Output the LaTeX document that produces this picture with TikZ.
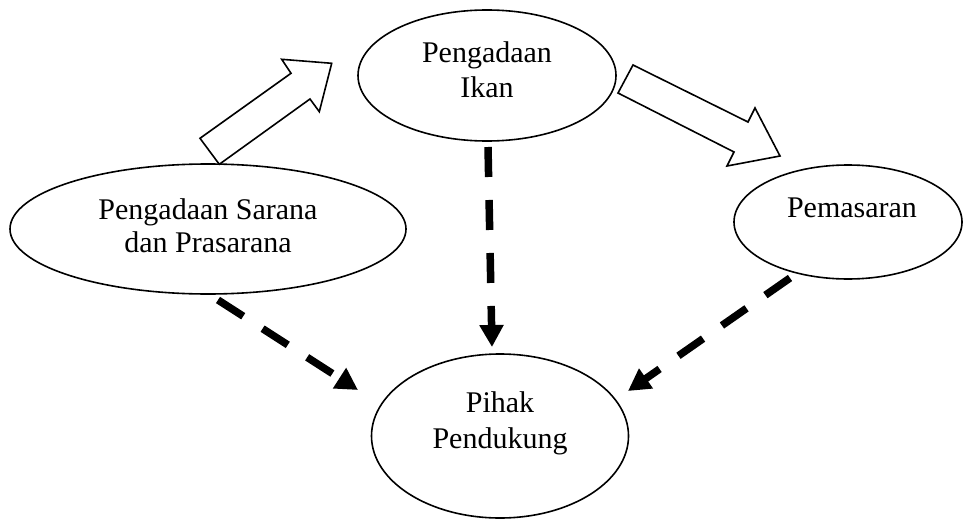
\documentclass[tikz,border=0pt]{standalone}
\usepackage{fontspec}
\setmainfont{Liberation Serif}
\usetikzlibrary{shapes.geometric,arrows.meta}
\begin{document}
\begin{tikzpicture}[x=1pt,y=-1pt,
  oval/.style={draw, ellipse, line width=1.6pt, inner sep=0pt},
  lbl/.style={anchor=base, font=\fontsize{30}{34}\selectfont, inner sep=0pt},
  blockarrow/.style={draw, line width=1.6pt, fill=white, line join=miter},
  dasharrow/.style={line width=7.5pt, dash pattern=on 30pt off 23pt, -{Triangle[length=22pt,width=23pt]}}]
\useasboundingbox (0,0) rectangle (963,519);
% ellipses
\node[oval, minimum width=258pt, minimum height=131pt] (ikan) at (487,75.5) {};
\node[oval, minimum width=396pt, minimum height=130pt] (sarana) at (208,229) {};
\node[oval, minimum width=228pt, minimum height=114pt] (pemasaran) at (848,222) {};
\node[oval, minimum width=257pt, minimum height=164pt] (pihak) at (500,436) {};
% texts
\node[lbl] (t1a) at (487,63) {Pengadaan};
\node[lbl] (t1b) at (487,97) {Ikan};
\node[lbl] (t2a) at (208,219) {Pengadaan Sarana};
\node[lbl] (t2b) at (208,252) {dan Prasarana};
\node[lbl] (t3) at (852,217) {Pemasaran};
\node[lbl] (t4a) at (500,412) {Pihak};
\node[lbl] (t4b) at (500,448) {Pendukung};
% block arrows
\draw[blockarrow] (200,138.3) -- (219.3,164.3) -- (310,99) -- (319.3,111.7) -- (331.7,63.3) -- (281.7,59.3) -- (291,73.3) -- cycle;
\draw[blockarrow] (633,65) -- (618,93) -- (734,152) -- (727,166) -- (780,156) -- (755,108) -- (748,122) -- cycle;
% dashed arrows
\coordinate (a1s) at (218,300);
\coordinate (a1e) at (358,390);
\coordinate (a2s) at (488,147);
\coordinate (a2e) at (492,347);
\coordinate (a3s) at (790,278);
\coordinate (a3e) at (628,391);
\draw[dasharrow] (a1s) -- (a1e);
\draw[dasharrow] (a2s) -- (a2e);
\draw[dasharrow] (a3s) -- (a3e);
\end{tikzpicture}
\end{document}
